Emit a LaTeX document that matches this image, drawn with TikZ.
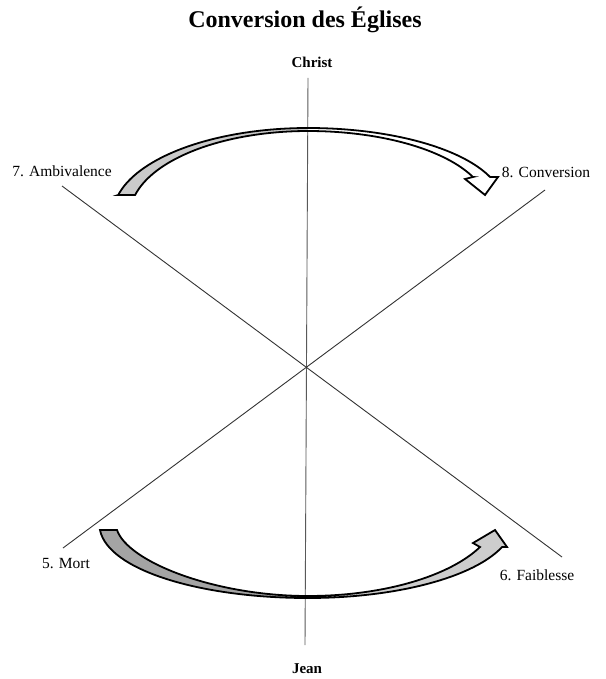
\documentclass[tikz,border=0pt]{standalone}
\usepackage{fontspec}
\setmainfont{Liberation Serif}
\begin{document}
\begin{tikzpicture}[x=1pt,y=-1pt,
  lbl/.style={font=\fontsize{15.5}{17}\selectfont, inner sep=0pt, anchor=base},
  boldlbl/.style={lbl, font=\fontsize{15}{17}\selectfont\bfseries},
  titlelbl/.style={font=\fontsize{24}{28}\selectfont\bfseries, inner sep=0pt, anchor=base},
  axisline/.style={line width=0.9pt, draw=black!80},
  arrowedge/.style={line width=1.8pt, line join=miter, draw=black}]
\useasboundingbox (0,0) rectangle (605,679);
\definecolor{tailgray}{HTML}{CACACA}
\definecolor{darkgray}{HTML}{A4A4A4}
\definecolor{lightgray}{HTML}{CDCDCD}

% texts
\node[titlelbl] (title) at (305,28) {Conversion des Églises};
\node[boldlbl] (christ) at (312,68) {Christ};
\node[boldlbl] (jean) at (307,673) {Jean};
\node[lbl] (amb) at (62,176) {7. Ambivalence};
\node[lbl] (conv) at (546,177) {8. Conversion};
\node[lbl] (mort) at (66,568) {5. Mort};
\node[lbl] (faib) at (537,580) {6. Faiblesse};

% axes
\coordinate (vtop) at (308,78);
\coordinate (vbot) at (305,645);
\coordinate (dA1) at (62,186);
\coordinate (dA2) at (562,557);
\coordinate (dB1) at (63,548);
\coordinate (dB2) at (545,190);
\draw[axisline, draw=black!65] (vtop) -- (vbot);
\draw[axisline] (dA1) -- (dA2);
\draw[axisline] (dB1) -- (dB2);

% top curved arrow
\def\toparrow{(118.2,195)
  -- plot[domain=166.7:90,samples=50,variable=\t] ({308+195*cos(\t)},{215-87*sin(\t)})
  -- plot[domain=90:21.1,samples=50,variable=\t] ({308+195*cos(\t)},{204.4-76.4*sin(\t)})
  -- (498,177) -- (485,195) -- (465,179) -- (473,177)
  -- plot[domain=23.6:90,samples=50,variable=\t] ({308+180*cos(\t)},{207.7-76.7*sin(\t)})
  -- plot[domain=90:166.2,samples=50,variable=\t] ({308+178*cos(\t)},{215-84*sin(\t)})
  -- cycle}
\fill[white] \toparrow;
\begin{scope}
  \clip (0,0) rectangle (308,679);
  \fill[tailgray] \toparrow;
\end{scope}
\draw[arrowedge] \toparrow;

% bottom curved arrow
\def\botarrow{(100,530) .. controls (108,570) and (200,598) .. (308,598)
  -- plot[domain=90:18.9,samples=50,variable=\t] ({308+205*cos(\t)},{522.7+75.3*sin(\t)})
  -- (507,547) -- (495,530) -- (473,543) -- (480,547)
  -- plot[domain=25.2:90,samples=50,variable=\t] ({308+190*cos(\t)},{510.8+85.2*sin(\t)})
  .. controls (215,596) and (128,562) .. (117,530)
  -- cycle}
\fill[lightgray] \botarrow;
\begin{scope}
  \clip (0,0) rectangle (308,679);
  \fill[darkgray] \botarrow;
\end{scope}
\draw[arrowedge] \botarrow;
\end{tikzpicture}
\end{document}
